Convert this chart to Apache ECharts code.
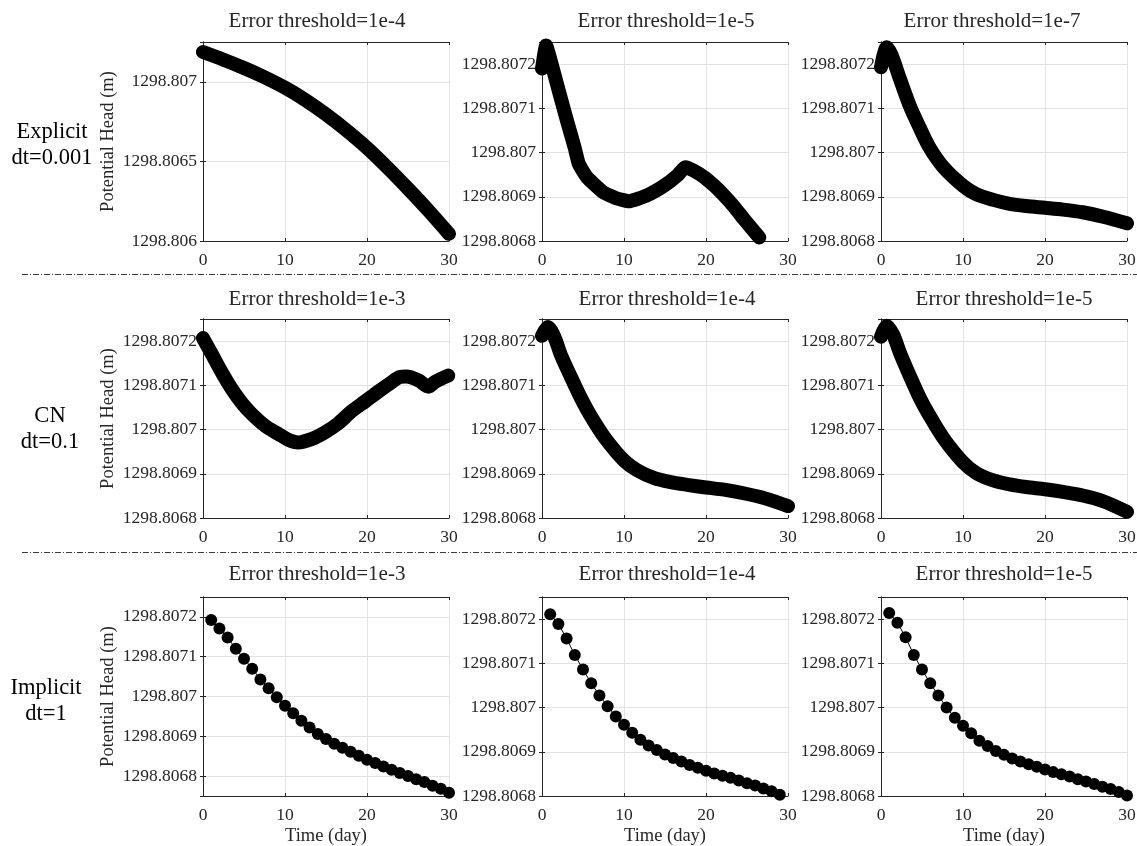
<!DOCTYPE html>
<html>
<head>
<meta charset="utf-8">
<script src="https://cdn.jsdelivr.net/npm/echarts@6/dist/echarts.min.js"></script>
<style>
    html, body { margin: 0; padding: 0; background: #fff; }
    #chart { width: 1137px; height: 846px; }
</style>
</head>
<body>
<div id="chart"></div>
<script>
    // Explicit, dt=0.001
    const explicitTimeA = [0, 2.5, 5, 7.5, 10, 12.5, 15, 17.5, 20, 22.5, 25, 27.5, 30]
    const explicitHeadA = [1298.807187, 1298.807139, 1298.807087, 1298.807029, 1298.806963, 1298.806885, 1298.806795,
        1298.806695, 1298.806585, 1298.806461, 1298.806329, 1298.806191, 1298.806045]

    const explicitTimeB = [0, 0.5, 1, 2, 3, 4, 4.5, 5.5, 7.5, 9, 10.6, 12.8, 14.9, 16.5, 17.5, 18.5, 19.8, 21, 22.2, 23.5, 24.6, 26.5]
    const explicitHeadB = [1298.807190, 1298.807242, 1298.807212, 1298.807143, 1298.807075, 1298.807010, 1298.806974,
        1298.806944, 1298.806910, 1298.806897, 1298.806890, 1298.806903, 1298.806925, 1298.806948, 1298.806967,
        1298.806959, 1298.806944, 1298.806925, 1298.806903, 1298.806876, 1298.806850, 1298.806808]

    const explicitTimeC = [0, 0.7, 1.3, 2.3, 3.5, 4.7, 5.9, 7.6, 10, 11.6, 13.7, 15.7, 17.7, 20, 22.2, 24.6, 27.1, 30]
    const explicitHeadC = [1298.807193, 1298.807238, 1298.807220, 1298.807167, 1298.807106, 1298.807057, 1298.807012,
        1298.806967, 1298.806925, 1298.806906, 1298.806893, 1298.806884, 1298.806879, 1298.806875, 1298.806871,
        1298.806865, 1298.806855, 1298.806840]

    // CN, dt=0.1
    const cnTimeA = [0, 1.1, 2.3, 3.5, 4.7, 5.9, 7.6, 9.2, 10.4, 11.6, 13.3, 14.9, 16.5, 18.1, 19.8, 21.4, 23, 24, 24.8, 26.3, 27.5, 28.3, 29.9]
    const cnHeadA = [1298.807207, 1298.807170, 1298.807129, 1298.807092, 1298.807061, 1298.807036, 1298.807008,
        1298.806990, 1298.806977, 1298.806971, 1298.806979, 1298.806994, 1298.807014, 1298.807041, 1298.807064,
        1298.807086, 1298.807107, 1298.807119, 1298.807120, 1298.807111, 1298.807097, 1298.807108, 1298.807122]

    const cnTimeB = [0, 0.7, 1.5, 2.3, 3.5, 4.7, 5.9, 7.6, 10, 11.6, 13.7, 15.7, 17.7, 20, 22.2, 24.6, 27.1, 30]
    const cnHeadB = [1298.807212, 1298.807232, 1298.807210, 1298.807169, 1298.807120, 1298.807073, 1298.807032,
        1298.806983, 1298.806930, 1298.806908, 1298.806890, 1298.806881, 1298.806875, 1298.806869, 1298.806864,
        1298.806856, 1298.806845, 1298.806827]

    const cnTimeC = [0, 0.7, 1.5, 2.3, 3.5, 4.7, 5.9, 7.6, 10, 11.6, 13.7, 15.7, 17.7, 20, 22.2, 24.6, 27.1, 30]
    const cnHeadC = [1298.807210, 1298.807235, 1298.807214, 1298.807174, 1298.807122, 1298.807073, 1298.807032,
        1298.806981, 1298.806926, 1298.806902, 1298.806885, 1298.806876, 1298.806870, 1298.806865, 1298.806859,
        1298.806851, 1298.806838, 1298.806814]

    // Implicit, dt=1 (one point per day)
    const implicitDays = [1, 2, 3, 4, 5, 6, 7, 8, 9, 10, 11, 12, 13, 14, 15, 16, 17, 18, 19, 20, 21, 22, 23, 24, 25, 26, 27, 28, 29, 30]
    const implicitHeadA = [1298.807192, 1298.807171, 1298.807148, 1298.807120, 1298.807095, 1298.807070, 1298.807043,
        1298.807021, 1298.806998, 1298.806977, 1298.806958, 1298.806939, 1298.806922, 1298.806906, 1298.806893,
        1298.806881, 1298.806871, 1298.806861, 1298.806851, 1298.806841, 1298.806833, 1298.806824, 1298.806816,
        1298.806808, 1298.806800, 1298.806792, 1298.806785, 1298.806776, 1298.806768, 1298.806758]
    const implicitHeadB = [1298.807211, 1298.807189, 1298.807156, 1298.807119, 1298.807086, 1298.807055, 1298.807027,
        1298.807003, 1298.806980, 1298.806961, 1298.806943, 1298.806927, 1298.806914, 1298.806904, 1298.806894,
        1298.806886, 1298.806878, 1298.806870, 1298.806864, 1298.806857, 1298.806851, 1298.806846, 1298.806841,
        1298.806835, 1298.806829, 1298.806824, 1298.806817, 1298.806811, 1298.806803]
    const implicitHeadC = [1298.807214, 1298.807192, 1298.807159, 1298.807119, 1298.807086, 1298.807055, 1298.807027,
        1298.807000, 1298.806977, 1298.806959, 1298.806942, 1298.806925, 1298.806913, 1298.806902, 1298.806893,
        1298.806885, 1298.806878, 1298.806872, 1298.806866, 1298.806860, 1298.806854, 1298.806849, 1298.806844,
        1298.806838, 1298.806833, 1298.806827, 1298.806821, 1298.806816, 1298.806809, 1298.806801]

    const panelTitles = ['Error threshold=1e-4', 'Error threshold=1e-5', 'Error threshold=1e-7',
        'Error threshold=1e-3', 'Error threshold=1e-4', 'Error threshold=1e-5',
        'Error threshold=1e-3', 'Error threshold=1e-4', 'Error threshold=1e-5']
    const rowLabels = ['Explicit\ndt=0.001', 'CN\ndt=0.1', 'Implicit\ndt=1']
    const xTicks = [0, 10, 20, 30]

    const panels = [
        {time: explicitTimeA, head: explicitHeadA, yMin: 1298.806, yMax: 1298.80725, split: 2},
        {time: explicitTimeB, head: explicitHeadB, yMin: 1298.8068, yMax: 1298.80725, split: 4, smooth: 0.15},
        {time: explicitTimeC, head: explicitHeadC, yMin: 1298.8068, yMax: 1298.80725, split: 4},
        {time: cnTimeA, head: cnHeadA, yMin: 1298.8068, yMax: 1298.80725, split: 4},
        {time: cnTimeB, head: cnHeadB, yMin: 1298.8068, yMax: 1298.80725, split: 4},
        {time: cnTimeC, head: cnHeadC, yMin: 1298.8068, yMax: 1298.80725, split: 4},
        {time: implicitDays, head: implicitHeadA, yMin: 1298.80675, yMax: 1298.80725, split: 4, dots: true},
        {time: implicitDays, head: implicitHeadB, yMin: 1298.8068, yMax: 1298.80725, split: 4, dots: true},
        {time: implicitDays, head: implicitHeadC, yMin: 1298.8068, yMax: 1298.80725, split: 4, dots: true}
    ]

    const colLeft = [203, 542, 881]
    const rowTop = [42, 319, 597]
    const titleX = [317, 666, 992, 317, 667, 1004, 317, 667, 1004]
    const titleTop = [11, 289, 564]
    const font = 'Liberation Serif'
    const ink = '#262626'

    // only label multiples of 1e-4, MATLAB style
    function headLabel (v) {
        const s = v * 1e4
        if (Math.abs(s - Math.round(s)) > 1e-3) return ''
        return String(+v.toFixed(4))
    }

    const tickIn = {show: true, inside: true, length: 3, lineStyle: {color: ink, width: 1}}
    const line = {show: true, lineStyle: {color: ink, width: 1}}

    const grid = []
    const xAxis = []
    const yAxis = []
    const series = []
    const title = []

    panels.forEach((p, i) => {
        const r = Math.floor(i / 3)
        const c = i % 3
        grid.push({left: colLeft[c], top: rowTop[r], width: 246, height: 199, outerBoundsMode: 'none'})

        xAxis.push({
            gridIndex: i, type: 'value', min: xTicks[0], max: xTicks[xTicks.length - 1], interval: 10,
            axisLine: line, axisTick: tickIn,
            axisLabel: {color: ink, fontFamily: font, fontSize: 17.5, margin: 10},
            splitLine: {show: true, lineStyle: {color: '#e3e3e3'}},
            name: r === 2 ? 'Time (day)' : '', nameLocation: 'middle', nameGap: 31,
            nameTextStyle: {color: ink, fontFamily: font, fontSize: 18.5}
        })
        xAxis.push({
            gridIndex: i, type: 'value', position: 'top', min: 0, max: 30, interval: 10,
            axisLine: line, axisTick: tickIn, axisLabel: {show: false}, splitLine: {show: false}
        })
        yAxis.push({
            gridIndex: i, type: 'value', min: p.yMin, max: p.yMax, splitNumber: p.split,
            axisLine: line, axisTick: tickIn,
            axisLabel: {color: ink, fontFamily: font, fontSize: 17.5, margin: 6, formatter: headLabel},
            splitLine: {show: true, lineStyle: {color: '#e3e3e3'}},
            name: c === 0 ? 'Potential Head (m)' : '', nameLocation: 'middle', nameGap: 85,
            nameTextStyle: {color: ink, fontFamily: font, fontSize: 18.5}
        })
        yAxis.push({
            gridIndex: i, type: 'value', position: 'right', min: p.yMin, max: p.yMax, splitNumber: p.split,
            axisLine: line, axisTick: tickIn, axisLabel: {show: false}, splitLine: {show: false}
        })

        const data = p.time.map((t, k) => [t, p.head[k]])
        if (p.dots) {
            series.push({
                type: 'line', xAxisIndex: 2 * i, yAxisIndex: 2 * i, data, clip: false,
                symbol: 'circle', symbolSize: 12, showSymbol: true,
                itemStyle: {color: '#000'}, lineStyle: {color: '#000', width: 1}
            })
        } else {
            series.push({
                type: 'line', xAxisIndex: 2 * i, yAxisIndex: 2 * i, data, clip: false,
                showSymbol: false, smooth: p.smooth || 0.3,
                lineStyle: {color: '#000', width: 14, cap: 'round', join: 'round'}
            })
        }

        title.push({
            text: panelTitles[i], left: titleX[i], top: titleTop[r], textAlign: 'center', padding: 0,
            textStyle: {color: ink, fontFamily: font, fontSize: 21, fontWeight: 'normal'}
        })
    })

    const rowLabelY = [145, 429, 701]
    const rowLabelX = [52, 50, 46]
    const graphic = rowLabels.map((t, k) => ({
        type: 'text', x: rowLabelX[k], y: rowLabelY[k],
        style: {text: t, fill: '#000', fontFamily: font, fontSize: 22.5, lineHeight: 26, align: 'center', verticalAlign: 'middle'}
    }))
    ;[274.5, 552.5].forEach(y => {
        graphic.push({
            type: 'line', shape: {x1: 22, y1: y, x2: 1137, y2: y},
            style: {stroke: '#3a3a3a', lineWidth: 1, lineDash: [6, 2, 1, 2]}
        })
    })

    const chart = echarts.init(document.getElementById('chart'))
    chart.setOption({
        animation: false,
        backgroundColor: '#fff',
        title,
        grid,
        xAxis,
        yAxis,
        series,
        graphic
    })
</script>
</body>
</html>
